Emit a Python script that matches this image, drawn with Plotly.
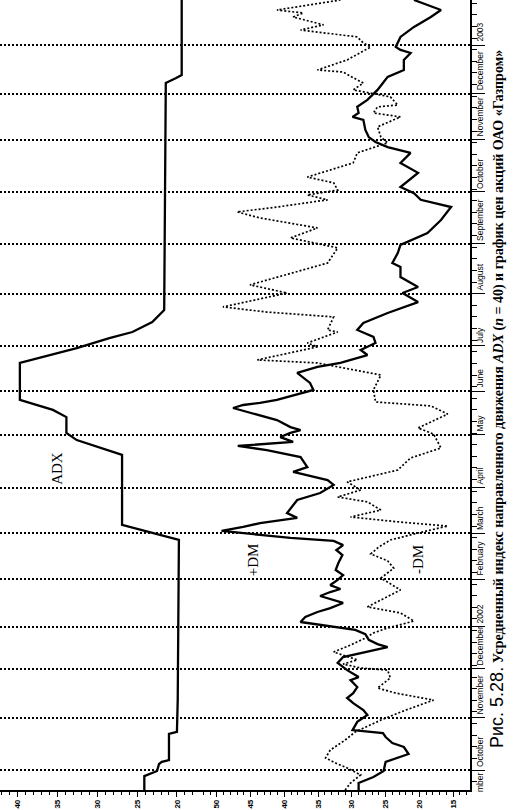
import plotly.graph_objects as go

# ---- time index (trading days) of month starts / grid lines ----
month_t = [8.6, 31.0, 52.1, 70.2, 90.8, 110.6, 130.0, 152.8, 171.7, 191.1,
           213.5, 235.0, 257.4, 279.8, 299.6, 320.6]
month_labels = ["October", "November", "December", "2002", "February", "March",
                "April", "May", "June", "July", "August", "September",
                "October", "November", "December", "2003"]

# ---- ADX (upper panel, shown at left) ----
adx_t = [0, 6.0, 8.2, 11.2, 12.1, 12.9, 24.1, 25.0, 38.7, 107.6, 114.1, 144.2,
         150.6, 151.9, 153.7, 160.5, 163.6, 167.9, 183.8, 190.2, 194.5, 197.1,
         201.4, 206.6, 304.3, 306.4, 307.7, 340]
adx_v = [24.1, 24.1, 22.5, 22.25, 21.9, 21.0, 21.0, 20.0, 19.9, 19.75, 26.9, 26.9,
         32.6, 33.1, 33.9, 33.9, 35.6, 39.75, 39.75, 32.6, 28.5, 25.6,
         23.1, 21.6, 21.4, 20.1, 19.4, 19.4]

# ---- +DM ----
pdm_t = [0, 3.0, 5.6, 8.2, 12.1, 13.8, 15.5, 18.5, 20.2, 22.8, 24.5, 25.8, 29.3,
         32.3, 34.4, 37.4, 39.6, 41.7, 44.3, 47.3, 48.6, 51.6, 54.7, 57.2, 59.0,
         60.3, 61.5, 62.8, 64.6, 67.1, 68.9, 72.3, 74.5, 76.6, 78.3, 80.5, 81.8,
         83.5, 85.2, 86.5, 88.2, 90.4, 92.5, 94.7, 97.7, 101.1, 103.3, 105.4,
         107.2, 108.5, 109.8, 111.5, 113.2, 114.9, 117.1, 119.2, 124.8, 127.8,
         131.3, 133.4, 136.9, 139.0, 143.3, 146.3, 148.1, 149.8, 151.9, 153.7,
         154.9, 156.2, 159.2, 162.3, 164.4, 165.7, 166.6, 167.9, 172.2, 175.2,
         179.5, 182.1, 183.8, 187.2, 189.4, 192.4, 195.0, 198.0, 201.0, 205.3,
         210.0, 213.9, 216.5, 220.8, 225.1, 226.8, 231.1, 234.6, 239.7, 245.3,
         250.9, 254.0, 256.9, 259.5, 265.6, 269.9, 274.2, 276.7, 278.9, 281.0,
         284.1, 288.4, 289.7, 291.4, 294.0, 297.0, 301.3, 304.3, 306.9, 309.9,
         314.2, 317.2, 318.5, 319.8, 324.1, 328.4, 332.7, 335.7, 339.1, 340]
pdm_v = [29.0, 29.0, 26.8, 25.3, 25.0, 23.2, 21.6, 22.3, 24.0, 25.0, 25.4, 29.9, 29.2,
         27.7, 28.3, 29.8, 30.7, 29.8, 29.2, 30.2, 29.0, 30.7, 32.1, 31.3, 28.7,
         26.8, 24.7, 26.2, 27.5, 28.0, 29.5, 37.6, 36.9, 35.1, 33.2, 31.3, 32.7,
         34.7, 33.2, 31.7, 33.2, 32.1, 31.3, 32.4, 32.0, 31.4, 32.3, 31.3,
         32.7, 39.1, 43.6, 49.3, 46.1, 43.6, 38.1, 39.6, 38.1, 34.7,
         32.7, 33.6, 38.7, 36.6, 37.6, 42.6, 46.9, 38.7, 40.6, 39.1,
         37.6, 39.1, 41.1, 45.1, 47.6, 46.1, 43.6, 41.1, 35.7, 36.2,
         38.1, 35.1, 31.7, 27.7, 28.7, 26.5, 26.8, 29.2, 28.3, 24.7,
         20.2, 22.5, 20.2, 22.8, 22.8, 24.0, 23.2, 22.8, 18.8, 16.8,
         15.3, 19.8, 20.8, 22.8, 20.2, 22.8, 21.3, 24.7, 26.5, 27.5,
         28.0, 28.3, 29.9, 29.0, 29.2, 27.7, 26.2, 25.4, 24.7, 22.3,
         22.3, 21.3, 22.8, 23.5, 22.8, 20.8, 18.3, 16.8, 20.2, 20.8]

# ---- -DM ----
mdm_t = [0, 3.0, 6.5, 9.5, 11.6, 13.8, 17.2, 21.5, 25.0, 30.1, 34.4, 38.7, 41.7,
         43.9, 48.2, 51.6, 52.5, 54.2, 56.0, 57.7, 59.4, 62.4, 65.4, 67.6, 69.7,
         72.7, 76.2, 78.8, 81.8, 86.1, 91.2, 95.5, 98.6, 101.6, 104.6, 107.6,
         110.2, 113.6, 115.3, 117.5, 120.5, 124.0, 126.1, 129.1, 132.6, 135.1,
         137.7, 142.9, 147.2, 153.2, 155.8, 161.8, 165.3, 167.0, 172.2, 178.6,
         183.8, 185.1, 190.7, 192.4, 197.1, 198.0, 203.6, 205.7, 207.9, 213.9,
         217.4, 226.8, 233.3, 237.6, 241.9, 246.2, 248.8, 250.9, 254.0, 256.1,
         258.2, 261.3, 263.8, 269.9, 274.2, 278.5, 281.0, 285.4, 289.7, 291.4,
         294.0, 294.8, 298.3, 299.1, 301.3, 304.3, 305.6, 309.0, 309.9, 314.2,
         319.8, 321.5, 324.1, 327.1, 329.3, 332.7, 334.4, 335.7, 340]
mdm_v = [31.0, 30.2, 28.7, 30.7, 32.4, 33.9, 33.2, 31.0, 29.5, 25.7, 22.0, 17.9, 23.5,
         26.2, 24.3, 24.7, 28.7, 31.3, 29.2, 31.0, 32.7, 30.2, 28.0, 26.8, 24.7,
         20.8, 22.8, 27.7, 25.7, 22.8, 25.7, 23.8, 24.7, 27.2, 26.0, 24.3,
         20.8, 15.8, 22.8, 30.2, 25.7, 27.7, 32.1, 28.7, 30.7, 27.2,
         23.2, 21.3, 16.8, 17.9, 20.2, 15.8, 18.3, 26.5, 26.8, 25.7,
         35.1, 44.0, 35.1, 36.6, 32.1, 33.6, 32.7, 42.6, 49.1, 39.6,
         45.1, 33.6, 32.1, 39.1, 35.1, 43.6, 47.0, 41.1, 33.6, 36.6,
         32.1, 32.7, 36.6, 29.8, 29.2, 24.7, 25.7, 26.2, 22.8, 26.8,
         26.2, 23.2, 24.3, 25.7, 29.8, 28.3, 29.2, 31.3, 35.1, 30.7,
         27.2, 28.3, 29.2, 37.6, 34.2, 38.7, 37.2, 41.1, 31.7]

adx_ticks = [40, 35, 30, 25, 20]
dm_ticks = [50, 45, 40, 35, 30, 25, 20, 15]

caption = ("<span style='font-family:Liberation Sans;font-size:18px'>Рис. 5.28.</span> "
           "<b>Усредненный индекс направленного движения <i>ADX</i> (<i>n</i> = 40) "
           "и график цен акций ОАО «Газпром»</b>")

fig = go.Figure()
fig.add_trace(go.Scatter(x=adx_v, y=adx_t, mode="lines", xaxis="x", yaxis="y",
                         line=dict(color="black", width=2.3), hoverinfo="skip"))
fig.add_trace(go.Scatter(x=pdm_v, y=pdm_t, mode="lines", xaxis="x2", yaxis="y2",
                         line=dict(color="black", width=2.3), hoverinfo="skip"))
fig.add_trace(go.Scatter(x=mdm_v, y=mdm_t, mode="lines", xaxis="x2", yaxis="y2",
                         line=dict(color="black", width=1.7, dash="2px,2px"),
                         hoverinfo="skip"))

tickfont = dict(family="Liberation Sans", size=8, color="black", weight="bold")
common_x = dict(ticks="outside", ticklen=5, tickwidth=1, tickcolor="black",
                tickangle=-90, showline=True, linecolor="black", linewidth=1.5,
                showgrid=False, zeroline=False, tickfont=tickfont,
                minor=dict(ticks="outside", ticklen=3, dtick=1, tick0=0,
                           tickcolor="black"))
grid = dict(showgrid=True, gridcolor="black", gridwidth=1.3, griddash="2px,2px",
            zeroline=False, showticklabels=False, range=[0, 340])

fig.update_layout(
    width=516, height=810,
    margin=dict(l=0, r=46, t=0, b=20),
    paper_bgcolor="white", plot_bgcolor="white",
    showlegend=False,
    xaxis=dict(domain=[0, 0.4255], range=[42.25, 17.1], anchor="y",
               tickvals=adx_ticks, **common_x),
    xaxis2=dict(domain=[0.4255, 1], range=[52.5, 12.5], anchor="y2",
                tickvals=dm_ticks, **common_x),
    yaxis=dict(domain=[0, 1], anchor="x", tickvals=month_t, ticks="",
               showline=False, **grid),
    yaxis2=dict(domain=[0, 1], anchor="x2", matches="y", side="right",
                tickvals=month_t, ticks="outside", ticklen=13, tickcolor="black",
                showline=True, linecolor="black", linewidth=1.5,
                minor=dict(ticks="outside", ticklen=5, dtick=5, tick0=8.6,
                           tickcolor="black"),
                **grid),
)

mfont = dict(family="Liberation Sans", size=8.5, color="black")
ann = []
for t, lab in zip(month_t, month_labels):
    ann.append(dict(x=1, xref="paper", y=t, yref="y", text=lab, showarrow=False,
                    textangle=-90, xanchor="left", yanchor="bottom", xshift=3,
                    yshift=1, font=mfont))
ann.append(dict(x=1, xref="paper", y=month_t[0], yref="y", text="mber",
                showarrow=False, textangle=-90, xanchor="left", yanchor="top",
                xshift=3, font=mfont))
lfont = dict(family="Liberation Serif", size=15, color="black")
ann.append(dict(x=35.0, xref="x", y=138.5, yref="y", text="ADX", showarrow=False,
                textangle=-90, bgcolor="white", font=lfont))
ann.append(dict(x=44.6, xref="x2", y=99, yref="y2", text="+DM", showarrow=False,
                textangle=-90, bgcolor="white", font=lfont))
ann.append(dict(x=20.2, xref="x2", y=99, yref="y2", text="-DM", showarrow=False,
                textangle=-90, bgcolor="white", font=lfont))
ann.append(dict(x=1.083, xref="paper", y=0.495, yref="paper", text=caption,
                showarrow=False, textangle=-90,
                font=dict(family="Liberation Serif", size=14, color="black")))
fig.update_layout(annotations=ann)

fig.write_html("out.html",
               config={"displayModeBar": False, "staticPlot": True},
               post_script="document.body.style.margin='0px';"
                           "document.body.style.overflow='hidden';")
